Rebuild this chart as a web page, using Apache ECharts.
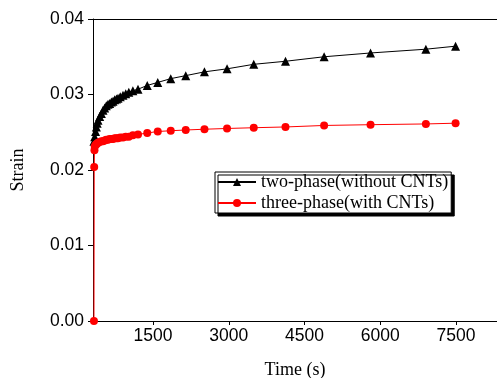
<!DOCTYPE html>
<html>
<head>
<meta charset="utf-8">
<script src="https://cdn.jsdelivr.net/npm/echarts@6/dist/echarts.min.js"></script>
<style>
  html, body { margin: 0; padding: 0; background: #fff; }
  #chart { width: 497px; height: 378px; }
</style>
</head>
<body>
<div id="chart"></div>
<script>
// values
const twoPhaseTimes = [330, 345, 362, 378, 394, 410, 444, 477, 509, 543, 575, 608, 642, 675, 707, 741, 775, 806, 850, 905, 960, 1020, 1100, 1202, 1385, 1593, 1850, 2147, 2518, 2965, 3494, 4122, 4887, 5806, 6902, 7490];
const twoPhase = [0.0238, 0.0244, 0.0251, 0.0257, 0.0262, 0.0266, 0.0271, 0.0275, 0.0279, 0.0282, 0.0285, 0.0287, 0.0288, 0.0290, 0.0291, 0.0293, 0.0294, 0.0295, 0.0297, 0.0299, 0.0301, 0.0303, 0.0305, 0.0307, 0.0312, 0.0316, 0.0321, 0.0325, 0.0330, 0.0334, 0.0340, 0.0344, 0.0350, 0.0355, 0.0360, 0.0364];

const threePhaseTimes = [330, 335, 340, 345, 362, 378, 394, 410, 444, 477, 509, 543, 575, 608, 642, 675, 707, 741, 775, 806, 850, 905, 960, 1020, 1100, 1202, 1385, 1593, 1850, 2147, 2518, 2965, 3494, 4122, 4887, 5806, 6902, 7490];
const threePhase = [0.0, 0.0204, 0.0226, 0.0231, 0.0233, 0.0234, 0.0235, 0.0236, 0.0237, 0.0238, 0.0238, 0.0239, 0.0240, 0.0240, 0.0241, 0.0241, 0.0241, 0.0242, 0.0242, 0.0242, 0.0243, 0.0243, 0.0244, 0.0244, 0.0246, 0.0247, 0.0249, 0.0251, 0.0252, 0.0253, 0.0254, 0.0255, 0.0256, 0.0257, 0.0259, 0.0260, 0.0261, 0.0262];

const xTicks = [1500, 3000, 4500, 6000, 7500];
const seriesNames = ['two-phase(without CNTs)', 'three-phase(with CNTs)'];

const chart = echarts.init(document.getElementById('chart'));

const sansFont = 'Liberation Sans';
const serifFont = 'Liberation Serif';

const option = {
  animation: false,
  grid: { left: 93, top: 19, right: 0, bottom: 57, outerBoundsMode: 'none' },
  legend: {
    left: 215,
    top: 172,
    orient: 'vertical',
    itemWidth: 38,
    itemHeight: 10,
    itemGap: 3,
    padding: [1, 3, 1, 2],
    backgroundColor: '#fff',
    borderColor: '#000',
    borderWidth: 1,
    shadowColor: '#000',
    shadowBlur: 0,
    shadowOffsetX: 3,
    shadowOffsetY: 3,
    textStyle: { fontFamily: serifFont, fontSize: 18, color: '#000' },
    data: seriesNames
  },
  xAxis: [
    {
      type: 'value',
      min: 311,
      max: 8310,
      name: 'Time (s)',
      nameLocation: 'middle',
      nameGap: 40,
      nameTextStyle: { fontFamily: serifFont, fontSize: 18, color: '#000' },
      axisLine: { lineStyle: { color: '#000', width: 1 } },
      axisTick: { show: true, length: 4, customValues: xTicks, lineStyle: { color: '#000' } },
      axisLabel: {
        customValues: xTicks,
        margin: 6,
        fontFamily: sansFont,
        fontSize: 17.5,
        color: '#000',
        formatter: (v) => String(v)
      },
      splitLine: { show: false }
    },
    {
      type: 'value',
      position: 'top',
      min: 311,
      max: 8310,
      axisLine: { lineStyle: { color: '#000', width: 1 } },
      axisTick: { show: false },
      axisLabel: { show: false },
      splitLine: { show: false }
    }
  ],
  yAxis: {
    type: 'value',
    min: 0,
    max: 0.04,
    interval: 0.01,
    name: 'Strain',
    nameLocation: 'middle',
    nameGap: 66,
    nameTextStyle: { fontFamily: serifFont, fontSize: 18, color: '#000' },
    axisLine: { show: true, lineStyle: { color: '#000', width: 1 } },
    axisTick: { show: true, length: 5, lineStyle: { color: '#000' } },
    axisLabel: {
      margin: 9,
      fontFamily: sansFont,
      fontSize: 17.5,
      color: '#000',
      formatter: (v) => v.toFixed(2)
    },
    splitLine: { show: false }
  },
  series: [
    {
      name: seriesNames[0],
      type: 'line',
      data: twoPhaseTimes.map((t, i) => [t, twoPhase[i]]),
      symbol: 'triangle',
      symbolSize: 9,
      showAllSymbol: true,
      itemStyle: { color: '#000' },
      lineStyle: { color: '#000', width: 1 }
    },
    {
      name: seriesNames[1],
      type: 'line',
      data: threePhaseTimes.map((t, i) => [t, threePhase[i]]),
      symbol: 'circle',
      symbolSize: 8,
      showAllSymbol: true,
      itemStyle: { color: '#ff0000' },
      lineStyle: { color: '#ff0000', width: 1 }
    }
  ]
};

chart.setOption(option);
</script>
</body>
</html>
